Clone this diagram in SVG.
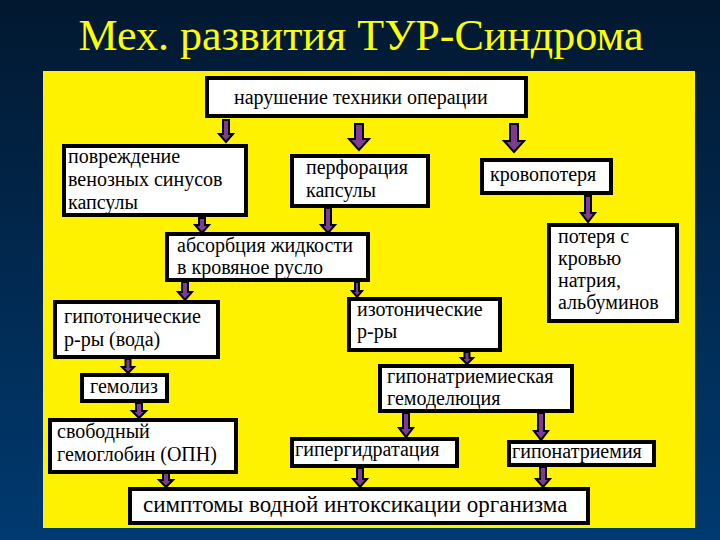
<svg xmlns="http://www.w3.org/2000/svg" width="720" height="540" viewBox="0 0 720 540">
<defs>
<linearGradient id="bg" x1="0" y1="0" x2="0" y2="1">
<stop offset="0" stop-color="#021830"/>
<stop offset="1" stop-color="#003a70"/>
</linearGradient>
<style>
text{font-family:'Liberation Serif',serif}
.box{fill:#ffffff;stroke:#000000;stroke-width:4}
.t{font-size:20px;fill:#000000}
.arr{fill:#7d3c92;stroke:#000000;stroke-width:2;stroke-linejoin:miter}
.title{font-size:44px;fill:#ffff00}
</style>
</defs>
<rect x="0" y="0" width="720" height="540" fill="url(#bg)"/>
<text class="title" x="361" y="50" text-anchor="middle">Мех. развития ТУР-Синдрома</text>
<rect x="43" y="71" width="652" height="457" fill="#fff200"/>

<g id="connectors">
<path class="arr" d="M223,120 H229 V134 H233 L226,142 L219,134 H223 Z"/>
<path class="arr" d="M355,124 H363 V139 H369 L359,150 L349,139 H355 Z"/>
<path class="arr" d="M510,124 H518 V141 H524 L514,152 L504,141 H510 Z"/>
<path class="arr" d="M199,218 H205 V225 H209 L202,233 L195,225 H199 Z"/>
<path class="arr" d="M325,208 H331 V225 H335 L328,233 L321,225 H325 Z"/>
<path class="arr" d="M585,196 H591 V213 H595 L588,222 L581,213 H585 Z"/>
<path class="arr" d="M182,282 H188 V292 H192 L185,300 L178,292 H182 Z"/>
<path class="arr" d="M355,282 H359 V291 H362 L357,297 L352,291 H355 Z"/>
<path class="arr" d="M125.5,359 H130.5 V367 H134 L128,373 L122,367 H125.5 Z"/>
<path class="arr" d="M464.5,352 H469.5 V358 H473 L467,364 L461,358 H464.5 Z"/>
<path class="arr" d="M136,403 H142 V411 H146 L139,418 L132,411 H136 Z"/>
<path class="arr" d="M403,413 H409 V428 H413 L406,437 L399,428 H403 Z"/>
<path class="arr" d="M538,413 H544 V431 H548 L541,440 L534,431 H538 Z"/>
<path class="arr" d="M163,472 H169 V480 H173 L166,487 L159,480 H163 Z"/>
<path class="arr" d="M357,468 H363 V479 H367 L360,487 L353,479 H357 Z"/>
<path class="arr" d="M540,467 H546 V479 H550 L543,487 L536,479 H540 Z"/>
</g>

<g id="n-narushenie">
<rect class="box" x="207" y="78" width="319" height="38"/>
<text class="t" x="234" y="104">нарушение техники операции</text>
</g>
<g id="n-povrezhdenie">
<rect class="box" x="64" y="146" width="182" height="69"/>
<text class="t" x="68" y="163">повреждение</text>
<text class="t" x="68" y="186">венозных синусов</text>
<text class="t" x="68" y="209">капсулы</text>
</g>
<g id="n-perforaciya">
<rect class="box" x="292" y="156" width="136" height="50"/>
<text class="t" x="306" y="174">перфорация</text>
<text class="t" x="306" y="197">капсулы</text>
</g>
<g id="n-krovopoterya">
<rect class="box" x="482" y="160" width="129" height="33"/>
<text class="t" x="490" y="181">кровопотеря</text>
</g>
<g id="n-absorbciya">
<rect class="box" x="167" y="234" width="201" height="46"/>
<text class="t" x="177" y="252">абсорбция жидкости</text>
<text class="t" x="177" y="274">в кровяное русло</text>
</g>
<g id="n-poterya">
<rect class="box" x="549" y="225" width="128" height="96"/>
<text class="t" x="558" y="243">потеря с</text>
<text class="t" x="558" y="265">кровью</text>
<text class="t" x="558" y="287">натрия,</text>
<text class="t" x="558" y="309">альбуминов</text>
</g>
<g id="n-gipotonicheskie">
<rect class="box" x="55" y="302" width="163" height="55"/>
<text class="t" x="64" y="323">гипотонические</text>
<text class="t" x="64" y="346">р-ры (вода)</text>
</g>
<g id="n-izotonicheskie">
<rect class="box" x="349" y="299" width="151" height="51"/>
<text class="t" x="357" y="316">изотонические</text>
<text class="t" x="357" y="338">р-ры</text>
</g>
<g id="n-gemodelyuciya">
<rect class="box" x="380" y="366" width="192" height="45"/>
<text class="t" x="387" y="383">гипонатриемиеская</text>
<text class="t" x="387" y="405">гемоделюция</text>
</g>
<g id="n-gemoliz">
<rect class="box" x="82" y="375" width="85" height="26"/>
<text class="t" x="90" y="393">гемолиз</text>
</g>
<g id="n-svobodnyi">
<rect class="box" x="50" y="420" width="186" height="52"/>
<text class="t" x="57" y="438">свободный</text>
<text class="t" x="57" y="461">гемоглобин (ОПН)</text>
</g>
<g id="n-gipergidrataciya">
<rect class="box" x="292" y="439" width="165" height="27"/>
<text class="t" x="295" y="456">гипергидратация</text>
</g>
<g id="n-giponatriemiya">
<rect class="box" x="509" y="442" width="145" height="23"/>
<text class="t" x="512" y="458">гипонатриемия</text>
</g>
<g id="n-simptomy">
<rect class="box" x="130" y="489" width="458" height="34"/>
<text class="t" x="143" y="512" style="font-size:23px">симптомы водной интоксикации организма</text>
</g>
</svg>
